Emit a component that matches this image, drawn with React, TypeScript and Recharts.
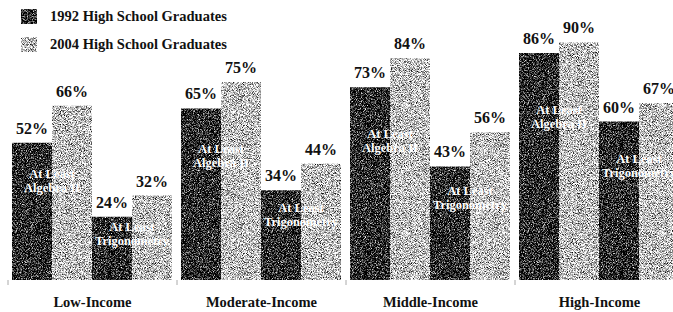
import React from 'react';
import { BarChart, Bar, XAxis, YAxis, Legend, LabelList } from 'recharts';

const groups = ['Low-Income', 'Moderate-Income', 'Middle-Income', 'High-Income'];
const alg1992 = [52, 65, 73, 86];
const alg2004 = [66, 75, 84, 90];
const trig1992 = [24, 34, 43, 60];
const trig2004 = [32, 44, 56, 67];
const legendLabels = ['1992 High School Graduates', '2004 High School Graduates'];
const algLabel = ['At Least', 'Algebra II'];
const trigLabel = ['At Least', 'Trigonometry'];

const data = groups.map((g, i) => ({
  group: g,
  alg1992: alg1992[i],
  alg2004: alg2004[i],
  trig1992: trig1992[i],
  trig2004: trig2004[i],
}));

const FONT = '"Liberation Serif", "Times New Roman", serif';
const CHART_W = 690;
const CHART_H = 312;
const MARGIN = { top: 16, right: 6, bottom: 2, left: 8 };
const BAND = (CHART_W - MARGIN.left - MARGIN.right) / groups.length;
const INNER_FRAC = 0.28;

const ValueLabel = (props: any) => {
  const { x, y, width, value } = props;
  return (
    <text
      x={x + width / 2}
      y={y - 9}
      textAnchor="middle"
      fontFamily={FONT}
      fontWeight="bold"
      fontSize={16}
      fill="#111"
    >
      {`${value}%`}
    </text>
  );
};

const makeInner = (lines: string[], partner: number[]) => (props: any) => {
  const { x, y, height, index } = props;
  const v2004 = props.value;
  const v1992 = partner[index];
  const bottom = y + height;
  const h1992 = (height * v1992) / v2004;
  const cy = bottom - h1992 * (1 - INNER_FRAC);
  return (
    <g>
      <text
        x={x}
        y={cy - 3}
        textAnchor="middle"
        fontFamily={FONT}
        fontWeight="bold"
        fontSize={12.5}
        fill="#fff"
      >
        {lines[0]}
      </text>
      <text
        x={x}
        y={cy + 11}
        textAnchor="middle"
        fontFamily={FONT}
        fontWeight="bold"
        fontSize={12.5}
        fill="#fff"
      >
        {lines[1]}
      </text>
    </g>
  );
};

const GroupTick = (props: any) => {
  const { x, y, payload, index } = props;
  return (
    <g>
      <line x1={x - BAND / 2} x2={x - BAND / 2} y1={y} y2={y + 5} stroke="#aaa" strokeWidth={1} />
      {index === groups.length - 1 && (
        <line x1={x + BAND / 2} x2={x + BAND / 2} y1={y} y2={y + 5} stroke="#aaa" strokeWidth={1} />
      )}
      <text
        x={x}
        y={y + 27}
        textAnchor="middle"
        fontFamily={FONT}
        fontWeight="bold"
        fontSize={14.5}
        fill="#111"
      >
        {payload.value}
      </text>
    </g>
  );
};

const LegendBox = () => {
  const fills = ['url(#patDark)', 'url(#patLight)'];
  return (
    <div style={{ fontFamily: FONT, fontWeight: 'bold', fontSize: 14.5, color: '#111' }}>
      {legendLabels.map((l, i) => (
        <div key={l} style={{ display: 'flex', alignItems: 'center', height: 28 }}>
          <svg width={16} height={15} style={{ marginLeft: 21, marginRight: 13 }}>
            <rect x={0} y={0} width={16} height={15} fill={fills[i]} />
          </svg>
          <span>{l}</span>
        </div>
      ))}
    </div>
  );
};

export default function App() {
  return (
    <div
      style={{
        position: 'absolute',
        left: 0,
        top: 0,
        width: 673,
        height: 312,
        overflow: 'hidden',
        background: '#fff',
      }}
    >
      <BarChart
        width={CHART_W}
        height={CHART_H}
        data={data}
        margin={MARGIN}
        barGap={0}
        barCategoryGap={4}
      >
        <defs>
          <filter id="noiseDark" x="0" y="0" width="1" height="1" colorInterpolationFilters="sRGB">
            <feTurbulence type="fractalNoise" baseFrequency="1.2" numOctaves="2" seed="3" stitchTiles="stitch" />
            <feColorMatrix
              type="matrix"
              values="2.4 0 0 0 -1.05  2.4 0 0 0 -1.05  2.4 0 0 0 -1.05  0 0 0 0 1"
            />
          </filter>
          <filter id="noiseLight" x="0" y="0" width="1" height="1" colorInterpolationFilters="sRGB">
            <feTurbulence type="fractalNoise" baseFrequency="1.2" numOctaves="2" seed="7" stitchTiles="stitch" />
            <feColorMatrix
              type="matrix"
              values="2.4 0 0 0 -0.45  2.4 0 0 0 -0.45  2.4 0 0 0 -0.45  0 0 0 0 1"
            />
          </filter>
          <pattern id="patDark" patternUnits="userSpaceOnUse" width={128} height={128}>
            <rect width={128} height={128} filter="url(#noiseDark)" />
          </pattern>
          <pattern id="patLight" patternUnits="userSpaceOnUse" width={128} height={128}>
            <rect width={128} height={128} filter="url(#noiseLight)" />
          </pattern>
        </defs>
        <XAxis
          dataKey="group"
          axisLine={false}
          tickLine={false}
          tickSize={0}
          tickMargin={0}
          height={30}
          interval={0}
          tick={<GroupTick />}
        />
        <YAxis hide domain={[0, 100]} />
        <Legend
          layout="vertical"
          align="center"
          verticalAlign="middle"
          wrapperStyle={{ top: 2, left: 0, width: 300 }}
          content={() => <LegendBox />}
        />
        <Bar dataKey="alg1992" fill="url(#patDark)" isAnimationActive={false}>
          <LabelList dataKey="alg1992" content={<ValueLabel />} />
        </Bar>
        <Bar dataKey="alg2004" fill="url(#patLight)" isAnimationActive={false}>
          <LabelList dataKey="alg2004" content={<ValueLabel />} />
          <LabelList dataKey="alg2004" content={makeInner(algLabel, alg1992)} />
        </Bar>
        <Bar dataKey="trig1992" fill="url(#patDark)" isAnimationActive={false}>
          <LabelList dataKey="trig1992" content={<ValueLabel />} />
        </Bar>
        <Bar dataKey="trig2004" fill="url(#patLight)" isAnimationActive={false}>
          <LabelList dataKey="trig2004" content={<ValueLabel />} />
          <LabelList dataKey="trig2004" content={makeInner(trigLabel, trig1992)} />
        </Bar>
      </BarChart>
    </div>
  );
}
